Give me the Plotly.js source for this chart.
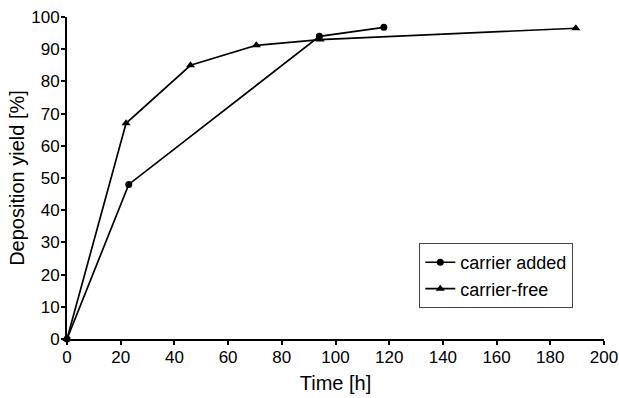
<!DOCTYPE html>
<html>
<head>
<meta charset="utf-8">
<script src="https://cdn.plot.ly/plotly-3.0.1.min.js"></script>
<style>body{margin:0;padding:0;background:#fff;} #chart{width:619px;height:398px;}</style>
</head>
<body>
<div id="chart"></div>
<script>
const addedTime = [0, 23, 94, 118];
const addedYield = [0, 48, 94, 96.8];
const freeTime = [0, 22, 46, 70.5, 94.3, 189.5];
const freeYield = [0, 67, 85, 91.2, 93, 96.5];
const seriesNames = ['carrier added', 'carrier-free'];
const xTicks = [0, 20, 40, 60, 80, 100, 120, 140, 160, 180, 200];
const yTicks = [0, 10, 20, 30, 40, 50, 60, 70, 80, 90, 100];

const font = 'Liberation Sans, Arial, sans-serif';
const traces = [
  {x: addedTime, y: addedYield, name: seriesNames[0], mode: 'lines+markers', cliponaxis: false,
   line: {color: '#000', width: 1.7}, marker: {symbol: 'circle', size: 7, color: '#000'}},
  {x: freeTime, y: freeYield, name: seriesNames[1], mode: 'lines+markers', cliponaxis: false,
   line: {color: '#000', width: 1.7}, marker: {symbol: 'triangle-up', size: 8, color: '#000'}}
];
const axisCommon = {showline: true, linecolor: '#000', linewidth: 2, ticks: 'outside', ticklen: 4,
  tickwidth: 2, tickcolor: '#000', showgrid: false, zeroline: false, ticklabeloverflow: 'allow',
  tickfont: {family: font, size: 17, color: '#000'}};
const layout = {
  width: 619, height: 398,
  margin: {l: 67, r: 15, t: 17, b: 59},
  paper_bgcolor: '#fff', plot_bgcolor: '#fff',
  showlegend: true,
  legend: {x: 0.656, y: 0.298, xanchor: 'left', yanchor: 'top', bgcolor: '#fff',
    bordercolor: '#444', borderwidth: 1, font: {family: font, size: 18, color: '#000'},
    itemwidth: 30, tracegroupgap: 0},
  xaxis: Object.assign({}, axisCommon, {range: [0, 200], tickvals: xTicks, ticktext: xTicks.map(String),
    ticklabelstandoff: -2,
    title: {text: 'Time [h]', font: {family: font, size: 20, color: '#000'}, standoff: 10}}),
  yaxis: Object.assign({}, axisCommon, {range: [0, 100], tickvals: yTicks, ticktext: yTicks.map(String),
    ticklabelstandoff: -2,
    title: {text: 'Deposition yield [%]', font: {family: font, size: 20, color: '#000'}, standoff: 1}})
};
Plotly.newPlot('chart', traces, layout, {displayModeBar: false, staticPlot: true});
</script>
</body>
</html>
